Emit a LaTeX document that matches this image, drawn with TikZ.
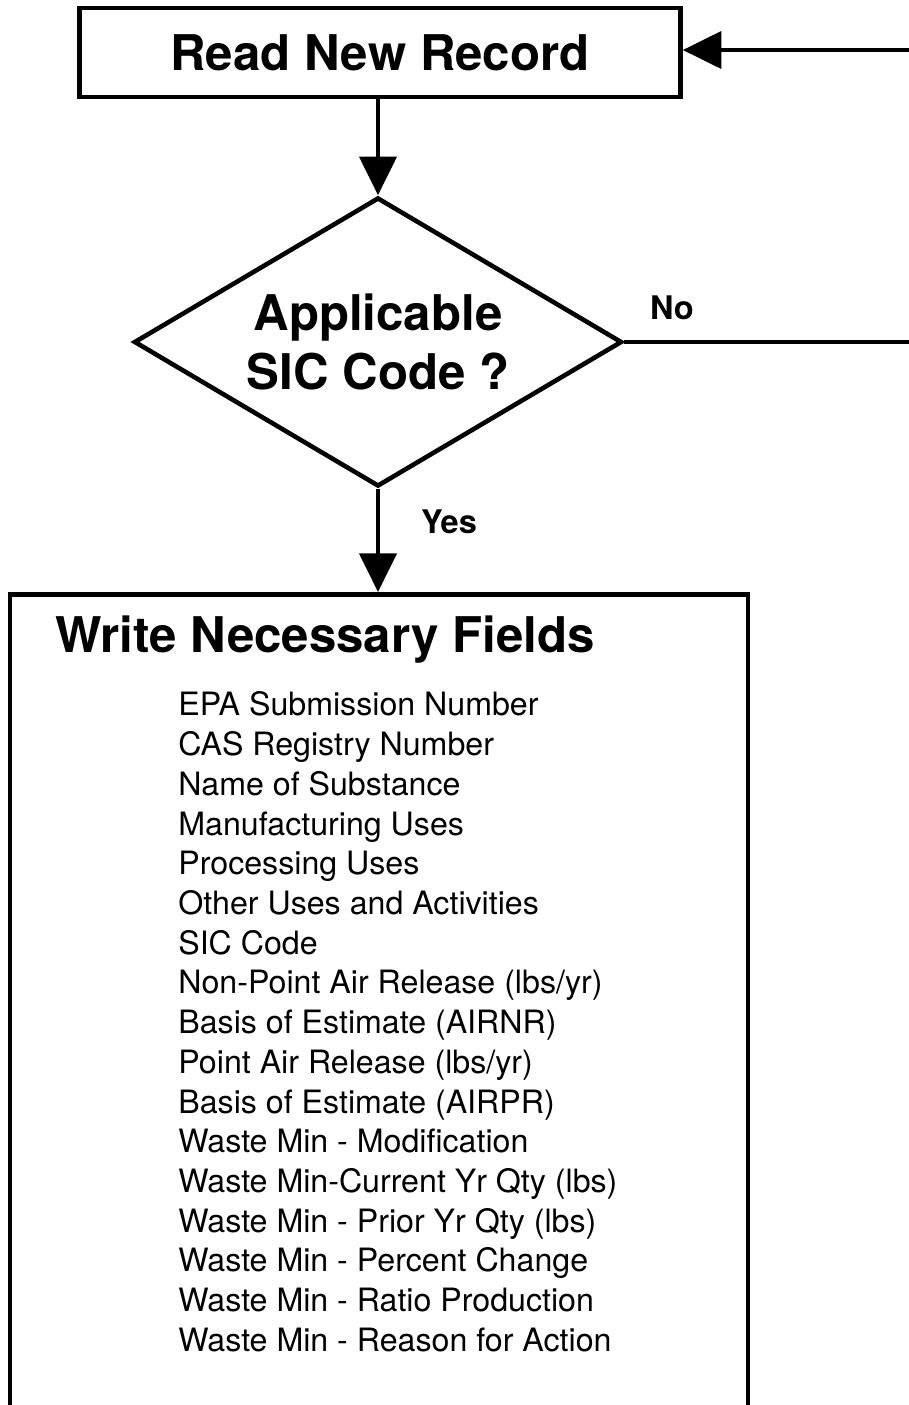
\documentclass[tikz,border=0pt]{standalone}
\usepackage{fontspec}
\setmainfont{TeX Gyre Heros}
\usetikzlibrary{arrows.meta,shapes.geometric,positioning}

\tikzset{
  block/.style={draw, rectangle, line width=2.6pt, inner sep=0pt},
  decision/.style={draw, diamond, aspect=1.69, line width=2.6pt, inner sep=0pt},
  flow/.style={line width=2.6pt, -{Triangle[length=22pt,width=21pt]}},
  plain/.style={line width=2pt},
  bigtext/.style={font=\fontsize{28}{34}\selectfont\bfseries},
  tag/.style={font=\fontsize{18.5}{20}\selectfont\bfseries},
}

\begin{document}
\begin{tikzpicture}
  \useasboundingbox (0,0) rectangle (18.18,-28.1);

  % Read step
  \node[block, bigtext, minimum width=12.02cm, minimum height=1.78cm] (read) at (7.6,-1.05) {Read New Record};

  % SIC test
  \node[decision, bigtext, align=center, minimum width=9.76cm, minimum height=5.78cm] (sic) at (7.56,-6.84) {Applicable\\SIC Code ?};

  % Write step (box runs past the bottom)
  \node[block, anchor=north, minimum width=14.76cm, minimum height=17cm] (write) at (7.58,-11.84) {};
  \node[bigtext, anchor=west, inner sep=0pt] (title) at (1.1,-12.8) {Write Necessary Fields};
  \node[anchor=north west, align=left, inner sep=0pt, font=\fontsize{18.3}{22.6}\selectfont] (fields) at (3.56,-13.83) {%
    EPA Submission Number\\
    CAS Registry Number\\
    Name of Substance\\
    Manufacturing Uses\\
    Processing Uses\\
    Other Uses and Activities\\
    SIC Code\\
    Non-Point Air Release (lbs/yr)\\
    Basis of Estimate (AIRNR)\\
    Point Air Release (lbs/yr)\\
    Basis of Estimate (AIRPR)\\
    Waste Min - Modification\\
    Waste Min-Current Yr Qty (lbs)\\
    Waste Min - Prior Yr Qty (lbs)\\
    Waste Min - Percent Change\\
    Waste Min - Ratio Production\\
    Waste Min - Reason for Action};

  % Flow lines
  \draw[flow] (read.south -| sic.north) -- (sic.north);
  \draw[flow] (sic.south) -- (sic.south |- write.north);
  \node[tag] (yes) at (8.98,-10.44) {Yes};

  % No branch loops back round the right side
  \coordinate (noend) at (18.4,-6.84);
  \coordinate (loopin) at (18.4,-1.0);
  \draw[plain] (sic.east) -- (noend);
  \draw[flow] (loopin) -- (read.east |- loopin);
  \node[tag] (no) at (13.44,-6.16) {No};
\end{tikzpicture}
\end{document}
